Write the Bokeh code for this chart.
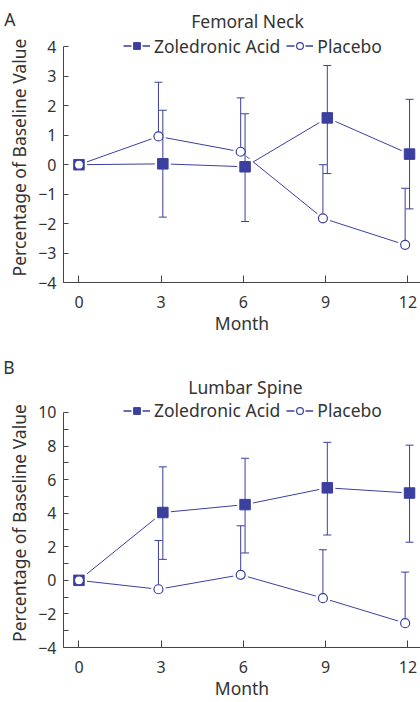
import numpy as np
from bokeh.plotting import figure
from bokeh.models import (ColumnDataSource, FixedTicker, Legend, LegendItem,
                          Label, Range1d)
from bokeh.layouts import column
from bokeh.embed import file_html
from bokeh.resources import INLINE

# ---------------- data ----------------
months = [0, 3, 6, 9, 12]          # visit months (x)
bar_months = [3, 6, 9, 12]         # months that carry error bars

# Panel A: Femoral Neck
fn_zol_mean = [0.0, 0.03, -0.07, 1.59, 0.36]
fn_zol_upper = [1.85, 1.73, 3.37, 2.22]
fn_zol_lower = [-1.78, -1.93, -0.30, -1.50]
fn_pla_mean = [0.0, 0.96, 0.44, -1.82, -2.72]
fn_pla_upper = [2.80, 2.27, 0.00, -0.80]

# Panel B: Lumbar Spine
ls_zol_mean = [0.0, 4.04, 4.51, 5.51, 5.20]
ls_zol_upper = [6.76, 7.27, 8.22, 8.05]
ls_zol_lower = [1.25, 1.63, 2.70, 2.27]
ls_pla_mean = [0.0, -0.53, 0.33, -1.06, -2.55]
ls_pla_upper = [2.37, 3.25, 1.82, 0.49]

x_ticks = [0, 3, 6, 9, 12]
fn_y_ticks = [-4, -3, -2, -1, 0, 1, 2, 3, 4]
fn_y_labels = ["\u22124", "\u22123", "\u22122", "\u22121", "0", "1", "2", "3", "4"]
ls_y_ticks = [-4, -2, 0, 2, 4, 6, 8, 10]
ls_y_labels = ["\u22124", "\u22122", "0", "2", "4", "6", "8", "10"]
ls_y_minor = [-3, -1, 1, 3, 5, 7, 9]

series_names = ["Zoledronic Acid", "Placebo"]
panel_titles = ["Femoral Neck", "Lumbar Spine"]
panel_letters = ["A", "B"]
x_title = "Month"
y_title = "Percentage of Baseline Value"

# ---------------- style ----------------
BLUE = "#3b3f9d"
TEXT = "#333333"
AXIS = "#444444"
FONT = "Noto Sans"
FS = "17.5px"
TICK_FS = "16px"
ZOL_SHIFT = 0.06     # small horizontal dodge of the two groups
PLA_SHIFT = -0.10
W = 420
LEFT = 62


def shifted(xs, d):
    xs = np.asarray(xs, dtype=float)
    return np.where(xs == 0, xs, xs + d)


def header(height, letter, letter_right, letter_y, title, title_x, title_y):
    h = figure(width=W, height=height, output_backend="svg", toolbar_location=None,
               x_range=Range1d(0, W - LEFT), y_range=Range1d(0, height),
               x_axis_type=None, min_border_left=LEFT, min_border_right=0,
               min_border_top=0, min_border_bottom=0)
    h.title.visible = False
    h.outline_line_color = None
    h.grid.visible = False
    h.background_fill_color = "white"
    h.border_fill_color = "white"
    # panel letter carried as the single label of a bare left axis
    tick = height - letter_y
    ax = h.yaxis[0]
    ax.ticker = FixedTicker(ticks=[tick], minor_ticks=[])
    ax.major_label_overrides = {tick: letter}
    ax.axis_line_color = None
    ax.major_tick_line_color = None
    ax.minor_tick_line_color = None
    ax.major_label_standoff = LEFT - letter_right
    ax.major_label_text_font = FONT
    ax.major_label_text_font_size = FS
    ax.major_label_text_color = TEXT
    h.add_layout(Label(x=title_x - LEFT, y=height - title_y, x_units="screen",
                       y_units="screen", text=title, text_font=FONT,
                       text_font_size=FS, text_color=TEXT,
                       text_align="center", text_baseline="middle"))
    return h


def panel(zm, zu, zl, pm, pu, yticks, ylabels, yminor, ytop,
          height, bbot, legend_dy):
    p = figure(width=W, height=height, output_backend="svg",
               toolbar_location=None,
               x_range=Range1d(-0.564, 12.46),
               y_range=Range1d(yticks[0], ytop),
               min_border_left=LEFT, min_border_right=0,
               min_border_top=0, min_border_bottom=bbot)
    p.title.visible = False
    fh = height - bbot
    p.outline_line_color = None
    p.grid.visible = False
    p.background_fill_color = "white"
    p.border_fill_color = "white"

    xz = shifted(months, ZOL_SHIFT)
    xp = shifted(months, PLA_SHIFT)
    bz = shifted(bar_months, ZOL_SHIFT)
    bp = shifted(bar_months, PLA_SHIFT)

    # connecting lines
    p.line(xz, zm, line_color=BLUE, line_width=1)
    p.line(xp, pm, line_color=BLUE, line_width=1)
    # white halos that break the lines around markers
    p.scatter(xz, zm, marker="square", size=16, fill_color="white", line_color=None)
    p.scatter(xp, pm, marker="circle", size=15, fill_color="white", line_color=None)
    # error bars
    p.segment(x0=bz, y0=zl, x1=bz, y1=zu, line_color=BLUE, line_width=1)
    p.scatter(bz, zu, marker="dash", size=8, line_color=BLUE, line_width=1)
    p.scatter(bz, zl, marker="dash", size=8, line_color=BLUE, line_width=1)
    p.segment(x0=bp, y0=pm[1:], x1=bp, y1=pu, line_color=BLUE, line_width=1)
    p.scatter(bp, pu, marker="dash", size=8, line_color=BLUE, line_width=1)
    # markers
    rz = p.scatter(xz, zm, marker="square", size=10.5, fill_color=BLUE,
                   line_color=BLUE, line_width=1)
    rp = p.scatter(xp, pm, marker="circle", size=9, fill_color="white",
                   line_color=BLUE, line_width=1.2)

    # legend-only dashed keys (a single undefined point: nothing drawn in the plot)
    kz = p.line("x", "y", source=ColumnDataSource(data=dict(x=[np.nan], y=[np.nan])),
                line_color=BLUE, line_width=1.3, line_dash="8 11")
    kp = p.line("x", "y", source=ColumnDataSource(data=dict(x=[np.nan], y=[np.nan])),
                line_color=BLUE, line_width=1.3, line_dash="8 11")
    legend = Legend(items=[LegendItem(label=series_names[0], renderers=[kz, rz]),
                           LegendItem(label=series_names[1], renderers=[kp, rp])],
                    orientation="horizontal", location=(60, fh - legend_dy - 11),
                    glyph_width=27, glyph_height=17, label_standoff=4,
                    spacing=6, padding=0, margin=0,
                    label_text_font=FONT, label_text_font_size=FS,
                    label_text_color=TEXT, background_fill_alpha=0,
                    border_line_color=None)
    p.add_layout(legend, "center")

    # axes
    p.xaxis.ticker = FixedTicker(ticks=x_ticks, minor_ticks=[])
    p.yaxis.ticker = FixedTicker(ticks=yticks, minor_ticks=yminor)
    p.yaxis.major_label_overrides = {t: s for t, s in zip(yticks, ylabels)}
    p.yaxis.bounds = (yticks[0], yticks[-1])
    for ax in (p.xaxis, p.yaxis):
        ax.axis_line_color = AXIS
        ax.major_tick_line_color = AXIS
        ax.minor_tick_line_color = AXIS
        ax.major_tick_out = 0
        ax.minor_tick_out = 0
        ax.major_label_text_font = FONT
        ax.major_label_text_font_size = TICK_FS
        ax.major_label_text_color = TEXT
        ax.axis_label_text_font = FONT
        ax.axis_label_text_font_size = FS
        ax.axis_label_text_font_style = "normal"
        ax.axis_label_text_color = TEXT
    p.xaxis.major_tick_in = 7
    p.xaxis.minor_tick_in = 0
    p.yaxis.major_tick_in = 5
    p.yaxis.minor_tick_in = 5
    p.xaxis.major_label_standoff = 13
    p.xaxis.axis_label = x_title
    p.xaxis.axis_label_standoff = 0
    p.yaxis.major_label_standoff = 7
    p.yaxis.axis_label = y_title
    p.yaxis.axis_label_standoff = 4
    return p


ha = header(32, panel_letters[0], 20, 18, panel_titles[0], 246, 20)
pa = panel(fn_zol_mean, fn_zol_upper, fn_zol_lower, fn_pla_mean, fn_pla_upper,
           fn_y_ticks, fn_y_labels, [], 4.49, height=308, bbot=58, legend_dy=14.5)
hb = header(58, panel_letters[1], 19, 26, panel_titles[1], 244, 46)
pb = panel(ls_zol_mean, ls_zol_upper, ls_zol_lower, ls_pla_mean, ls_pla_upper,
           ls_y_ticks, ls_y_labels, ls_y_minor, 10.83, height=304, bbot=53, legend_dy=15)

layout = column(ha, pa, hb, pb, spacing=0)
open("out.html", "w").write(file_html(layout, INLINE))
